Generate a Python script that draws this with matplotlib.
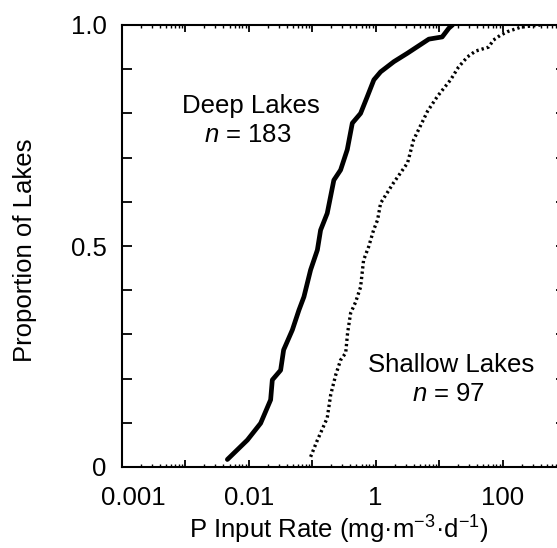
import matplotlib
matplotlib.use("Agg")
import matplotlib.pyplot as plt
import matplotlib.transforms as mtransforms
from matplotlib.ticker import FixedLocator, FixedFormatter, NullFormatter
import numpy as np

plt.rcParams['font.family'] = ['Liberation Sans', 'DejaVu Sans']
plt.rcParams['mathtext.fontset'] = 'custom'
plt.rcParams['mathtext.rm'] = 'Liberation Sans'
plt.rcParams['mathtext.it'] = 'Liberation Sans:italic'

# ---- data ----
deep_x = [0.00462, 0.00955, 0.01545, 0.0222, 0.0236, 0.0319, 0.0356, 0.0488,
          0.062, 0.0743, 0.0947, 0.121, 0.136, 0.173, 0.22, 0.281, 0.358,
          0.43, 0.58, 0.74, 0.94, 1.2, 1.94, 3.16, 6.9, 11.2, 14.3, 16.3]
deep_p = [0.017, 0.061, 0.099, 0.152, 0.197, 0.219, 0.265, 0.31, 0.355,
          0.385, 0.446, 0.491, 0.536, 0.574, 0.649, 0.672, 0.718, 0.778,
          0.8, 0.838, 0.876, 0.894, 0.917, 0.936, 0.968, 0.973, 0.993, 1.0]

shallow_x = [0.0947, 0.118, 0.136, 0.173, 0.196, 0.235, 0.281, 0.338, 0.362,
             0.404, 0.484, 0.58, 0.647, 0.776, 0.93, 1.075, 1.2, 1.92, 3.19,
             3.97, 6.59, 9.47, 15.2, 20.3, 28.1, 37.6, 60.3, 72.1, 93, 120,
             192, 396]
shallow_p = [0.023, 0.057, 0.077, 0.111, 0.163, 0.208, 0.242, 0.258, 0.303,
             0.348, 0.373, 0.407, 0.468, 0.498, 0.536, 0.559, 0.597, 0.643,
             0.688, 0.74, 0.805, 0.839, 0.876, 0.905, 0.928, 0.941, 0.95,
             0.966, 0.977, 0.985, 0.995, 1.0]

x_major = [1e-4, 1e-3, 1e-2, 1e-1, 1, 10, 100, 1000]
x_major_labels = ["0.001", "", "0.01", "", "1", "", "100", ""]
y_ticks = [0, 0.1, 0.2, 0.3, 0.4, 0.5, 0.6, 0.7, 0.8, 0.9, 1.0]
y_labels = ["0", "", "", "", "", "0.5", "", "", "", "", "1.0"]

W, H = 557, 548
fig = plt.figure(figsize=(W / 100, H / 100), dpi=100)
ax = fig.add_axes([121.7 / W, (H - 467) / H, 444.3 / W, 442 / H])

ax.plot(deep_x, deep_p, color='black', lw=3.4, solid_capstyle='round',
        solid_joinstyle='round')
ax.plot(shallow_x, shallow_p, color='black', lw=2.4,
        linestyle=(0, (0.7, 0.9)), dash_capstyle='butt')

ax.set_xscale('log')
ax.set_xlim(1e-4, 1e3)
ax.set_ylim(0, 1)

ax.xaxis.set_major_locator(FixedLocator(x_major))
ax.xaxis.set_major_formatter(FixedFormatter(x_major_labels))
minors = [m * 10.0 ** e for e in range(-4, 3) for m in range(2, 10)]
ax.xaxis.set_minor_locator(FixedLocator(minors))
ax.xaxis.set_minor_formatter(NullFormatter())
ax.yaxis.set_major_locator(FixedLocator(y_ticks))
ax.yaxis.set_major_formatter(FixedFormatter(y_labels))

for s in ax.spines.values():
    s.set_linewidth(1.5)

ax.tick_params(axis='both', which='both', direction='in', top=True, right=True,
               labelsize=18.5, colors='black')
ax.tick_params(axis='y', which='major', length=7, width=1.3, pad=11)
ax.tick_params(axis='x', which='major', length=5, width=1.3, pad=14)
ax.tick_params(axis='x', which='minor', length=2.5, width=1.0)

# shift the leftmost x label a bit to the right, as in the reference
offset = mtransforms.ScaledTranslation(0.12, 0, fig.dpi_scale_trans)
lbl = ax.get_xticklabels()[0]
lbl.set_transform(lbl.get_transform() + offset)

fs = 18.5
fig.text(251 / W, 1 - 113 / H, "Deep Lakes", ha='center', va='baseline', fontsize=fs)
fig.text(248 / W, 1 - 142 / H, "$n$ = 183", ha='center', va='baseline', fontsize=fs)
fig.text(451 / W, 1 - 372 / H, "Shallow Lakes", ha='center', va='baseline', fontsize=fs)
fig.text(449 / W, 1 - 401 / H, "$n$ = 97", ha='center', va='baseline', fontsize=fs)

fig.text(25 / W, 1 - 250 / H, "Proportion of Lakes", rotation=90,
         ha='center', va='center', fontsize=fs)
fig.text(339 / W, 1 - 530 / H, "P Input Rate (mg\u00b7m$^{-3}$\u00b7d$^{-1}$)",
         ha='center', va='center', fontsize=fs)

fig.savefig("out.png", dpi=100)
